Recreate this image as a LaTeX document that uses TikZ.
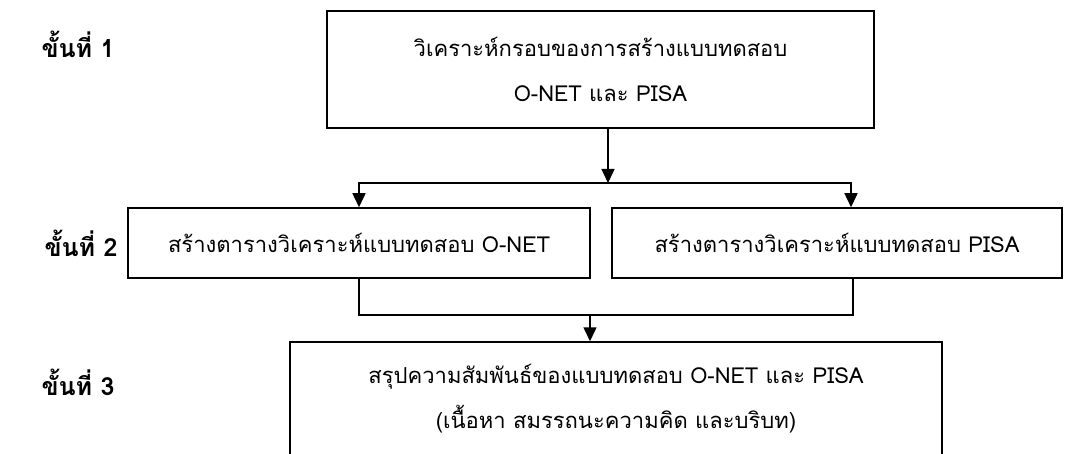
\documentclass[tikz,border=0pt]{standalone}
\usepackage{fontspec}
\newfontfamily\thaifont[Script=Thai]{Loma}
\usetikzlibrary{calc, arrows.meta, positioning}

\begin{document}
\begin{tikzpicture}[x=1pt, y=-1pt,
    box/.style={draw, rectangle, line width=1.5pt, align=center, inner sep=0pt,
        font=\thaifont\fontsize{22}{45}\selectfont},
    steplabel/.style={font=\thaifont\bfseries\fontsize{25}{30}\selectfont},
    arr/.style={-{Triangle[width=13pt,length=14pt]}, line width=1.5pt},
    link/.style={line width=1.5pt}]
            \useasboundingbox (0,0) rectangle (1065,454);
            \clip (0,0) rectangle (1065,454);
            \node[steplabel] (Step1) at (78,44) {ขั้นที่ 1};
            \node[steplabel] (Step2) at (81,243) {ขั้นที่ 2};
            \node[steplabel] (Step3) at (78,382) {ขั้นที่ 3};

            \node[box, minimum width=547pt, minimum height=117pt] (Frame) at (600.5,69.5) {วิเคราะห์กรอบของการสร้างแบบทดสอบ\\O-NET และ PISA};
            \node[box, minimum width=462pt, minimum height=70pt] (Onet) at (359,243) {สร้างตารางวิเคราะห์แบบทดสอบ O-NET};
            \node[box, minimum width=450pt, minimum height=70pt] (Pisa) at (837,243) {สร้างตารางวิเคราะห์แบบทดสอบ PISA};
            \node[box, minimum width=652pt, minimum height=114pt] (Summary) at (616,399) {สรุปความสัมพันธ์ของแบบทดสอบ O-NET และ PISA\\(เนื้อหา สมรรถนะความคิด และบริบท)};

            \coordinate (Fork) at (608,183);
            \coordinate (Join) at (590,315);

            \draw[arr] (Frame.south -| Fork) -- (Fork);
            \draw[arr] (Fork) -| (Onet.north);
            \draw[arr] (Fork) -| ([xshift=14pt]Pisa.north);
            \draw[link] (Onet.south) |- (Join) -| ([xshift=16pt]Pisa.south);
            \draw[arr] (Join) -- (Summary.north -| Join);
        \end{tikzpicture}
\end{document}
